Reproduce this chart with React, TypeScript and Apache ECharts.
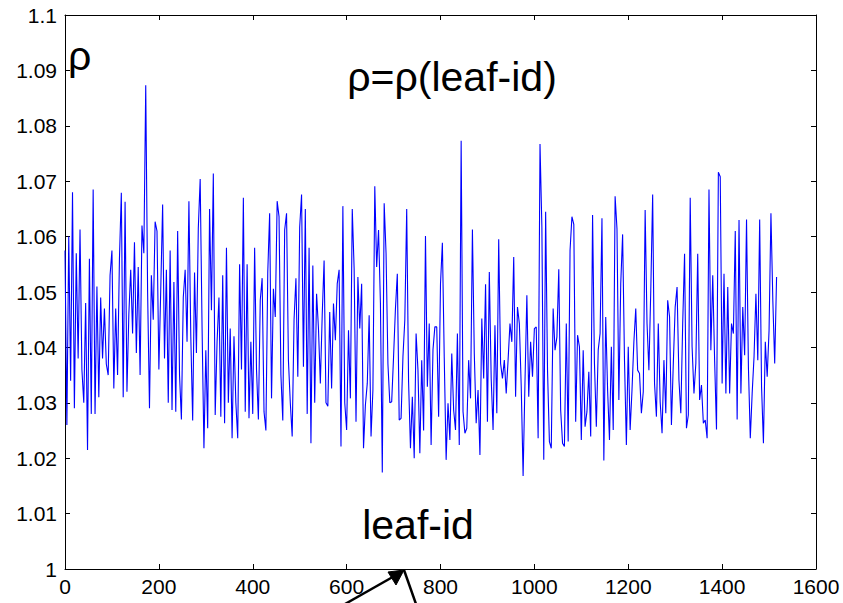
import React, { useEffect, useRef } from "react";
import * as echarts from "echarts";

// leaf-id step between plotted samples
const LEAF_STEP = 4;

// density ratio ρ per leaf
const rho: number[] = [
  1.0575, 1.026, 1.060, 1.034, 1.068, 1.029, 1.057, 1.038, 1.0613, 1.036,
  1.030, 1.048, 1.0215, 1.056, 1.028, 1.0685, 1.028, 1.051, 1.031, 1.049,
  1.038, 1.047, 1.037, 1.035, 1.053, 1.0575, 1.0326, 1.047, 1.035, 1.056,
  1.0679, 1.031, 1.0663, 1.032, 1.046, 1.054, 1.0425, 1.059, 1.039, 1.0545,
  1.035, 1.062, 1.057, 1.0873, 1.050, 1.029, 1.053, 1.045, 1.0627, 1.061,
  1.036, 1.0505, 1.0658, 1.038, 1.054, 1.030, 1.0575, 1.0287, 1.0518, 1.0284,
  1.061, 1.035, 1.027, 1.049, 1.054, 1.041, 1.0664, 1.042, 1.0268, 1.0535,
  1.039, 1.0615, 1.0704, 1.0437, 1.0218, 1.0395, 1.0254, 1.065, 1.0467, 1.0714,
  1.0278, 1.041, 1.049, 1.0275, 1.053, 1.0263, 1.058, 1.030, 1.0434, 1.0236,
  1.042, 1.030, 1.0236, 1.055, 1.036, 1.067, 1.0284, 1.055, 1.0272, 1.041,
  1.028, 1.058, 1.036, 1.027, 1.0485, 1.0525, 1.0284, 1.025, 1.0536, 1.0642,
  1.0308, 1.0506, 1.0455, 1.0664, 1.0636, 1.035, 1.0268, 1.0612, 1.0642, 1.0377,
  1.030, 1.0239, 1.045, 1.0525, 1.0347, 1.0617, 1.0676, 1.0365, 1.065, 1.028,
  1.058, 1.0227, 1.0548, 1.030, 1.0497, 1.0434, 1.0335, 1.0458, 1.0557, 1.030,
  1.0294, 1.0464, 1.0326, 1.0479, 1.0413, 1.0515, 1.054, 1.0221, 1.0655, 1.030,
  1.0251, 1.0431, 1.0308, 1.065, 1.0542, 1.0266, 1.0527, 1.0434, 1.0515, 1.0218,
  1.0296, 1.0335, 1.0458, 1.0239, 1.0323, 1.0691, 1.0545, 1.0612, 1.048, 1.0174,
  1.066, 1.057, 1.037, 1.030, 1.0302, 1.0383, 1.047, 1.0533, 1.0269, 1.0272,
  1.0383, 1.045, 1.065, 1.0338, 1.0218, 1.0311, 1.020, 1.0425, 1.0359, 1.0209,
  1.0377, 1.025, 1.0601, 1.0329, 1.0443, 1.0224, 1.0396, 1.0437, 1.0437, 1.0275,
  1.0515, 1.0589, 1.0381, 1.0197, 1.0299, 1.0233, 1.0389, 1.0287, 1.0251, 1.0425,
  1.0224, 1.0773, 1.0284, 1.0245, 1.0254, 1.0377, 1.0308, 1.0613, 1.0389, 1.0263,
  1.0323, 1.0206, 1.0452, 1.0344, 1.0514, 1.0266, 1.0536, 1.0344, 1.0251, 1.044,
  1.0281, 1.0595, 1.0371, 1.0344, 1.0377, 1.0317, 1.0377, 1.0443, 1.041, 1.0563,
  1.0311, 1.0473, 1.0443, 1.0329, 1.0168, 1.0338, 1.0494, 1.0311, 1.041, 1.0347,
  1.0434, 1.0437, 1.0236, 1.0767, 1.0617, 1.0197, 1.0645, 1.0359, 1.023, 1.0218,
  1.047, 1.0395, 1.0419, 1.0541, 1.0287, 1.0227, 1.0221, 1.0443, 1.023, 1.0575,
  1.0636, 1.0622, 1.0266, 1.0422, 1.0401, 1.0233, 1.0395, 1.0257, 1.0284, 1.0356,
  1.0239, 1.0639, 1.0371, 1.0257, 1.0395, 1.0425, 1.0633, 1.0196, 1.0455, 1.0323,
  1.0233, 1.0401, 1.0251, 1.0673, 1.0614, 1.0305, 1.0515, 1.0604, 1.0377, 1.0224,
  1.0401, 1.0251, 1.0323, 1.041, 1.047, 1.0359, 1.0353, 1.0281, 1.032, 1.0648,
  1.0443, 1.0359, 1.0503, 1.0676, 1.0335, 1.0275, 1.0443, 1.0302, 1.0245, 1.0377,
  1.0281, 1.0485, 1.0455, 1.026, 1.0371, 1.0473, 1.0509, 1.0341, 1.0281, 1.0443,
  1.0569, 1.0254, 1.0278, 1.067, 1.0401, 1.0317, 1.0371, 1.0569, 1.0305, 1.0332,
  1.0263, 1.0269, 1.0236, 1.0685, 1.0395, 1.053, 1.0377, 1.0252, 1.0716, 1.0708,
  1.0335, 1.0533, 1.0317, 1.0509, 1.0317, 1.0443, 1.0425, 1.061, 1.027, 1.063,
  1.0317, 1.0473, 1.0386, 1.0631, 1.0365, 1.0236, 1.0317, 1.0383, 1.0497, 1.0377,
  1.0631, 1.0329, 1.0227, 1.041, 1.0347, 1.0431, 1.0642, 1.0485, 1.0371, 1.0527,
];

const X_MIN = 0;
const X_MAX = 1600;
const X_INTERVAL = 200;
const Y_MIN = 1;
const Y_MAX = 1.1;
const Y_INTERVAL = 0.01;

const TITLE = "ρ=ρ(leaf-id)";
const Y_NAME = "ρ";
const X_NAME = "leaf-id";

const FONT = "'Liberation Sans', Arial, sans-serif";

export default function App() {
  const ref = useRef<HTMLDivElement>(null);

  useEffect(() => {
    if (!ref.current) return;
    const chart = echarts.init(ref.current, undefined, { renderer: "svg" });

    const data = rho.map((v, i) => [i * LEAF_STEP, v]);

    const axisLine = { show: true, onZero: false, lineStyle: { color: "#000", width: 1 } };
    const axisTick = { show: true, inside: true, length: 5, lineStyle: { color: "#000", width: 1 } };
    const labelStyle = { color: "#000", fontSize: 21, fontFamily: FONT };

    const yFmt = (v: number) => String(parseFloat(v.toFixed(2)));
    const xFmt = (v: number) => String(Math.round(v));

    chart.setOption({
      animation: false,
      backgroundColor: "#fff",
      grid: { left: 65, right: 27, top: 15, bottom: 34, containLabel: false },
      xAxis: [
        {
          type: "value",
          min: X_MIN,
          max: X_MAX,
          interval: X_INTERVAL,
          position: "bottom",
          axisLine,
          axisTick,
          axisLabel: { ...labelStyle, margin: 7, formatter: xFmt, showMinLabel: true, showMaxLabel: true },
          splitLine: { show: false },
        },
        {
          type: "value",
          min: X_MIN,
          max: X_MAX,
          interval: X_INTERVAL,
          position: "top",
          axisLine,
          axisTick,
          axisLabel: { show: false },
          splitLine: { show: false },
        },
      ],
      yAxis: [
        {
          type: "value",
          min: Y_MIN,
          max: Y_MAX,
          interval: Y_INTERVAL,
          position: "left",
          axisLine,
          axisTick,
          axisLabel: { ...labelStyle, margin: 8, formatter: yFmt, showMinLabel: true, showMaxLabel: true },
          splitLine: { show: false },
        },
        {
          type: "value",
          min: Y_MIN,
          max: Y_MAX,
          interval: Y_INTERVAL,
          position: "right",
          axisLine,
          axisTick,
          axisLabel: { show: false },
          splitLine: { show: false },
        },
      ],
      series: [
        {
          type: "line",
          xAxisIndex: 0,
          yAxisIndex: 0,
          data,
          symbol: "none",
          lineStyle: { color: "#0000ff", width: 1.1 },
          silent: true,
        },
      ],
      graphic: [
        {
          type: "text",
          left: 68,
          top: 35,
          style: { text: Y_NAME, fontSize: 41, fontFamily: FONT, fill: "#000" },
        },
        {
          type: "text",
          x: 452,
          y: 77,
          style: {
            text: TITLE,
            fontSize: 41,
            fontFamily: FONT,
            fill: "#000",
            align: "center",
            verticalAlign: "middle",
          },
        },
        {
          type: "text",
          x: 418,
          y: 525,
          style: {
            text: X_NAME,
            fontSize: 41,
            fontFamily: FONT,
            fill: "#000",
            align: "center",
            verticalAlign: "middle",
          },
        },
        {
          type: "polyline",
          shape: { points: [[345, 604], [398, 574]] },
          style: { stroke: "#000", lineWidth: 2.5, fill: "none" },
        },
        {
          type: "polygon",
          shape: { points: [[404, 570], [388, 572], [396, 585]] },
          style: { fill: "#000", stroke: "#000", lineWidth: 1 },
        },
        {
          type: "polyline",
          shape: { points: [[404, 570], [416, 604]] },
          style: { stroke: "#000", lineWidth: 2.5, fill: "none" },
        },
      ],
    });

    return () => chart.dispose();
  }, []);

  return (
    <div
      ref={ref}
      style={{ position: "absolute", left: 0, top: 0, width: 843, height: 603 }}
    />
  );
}
